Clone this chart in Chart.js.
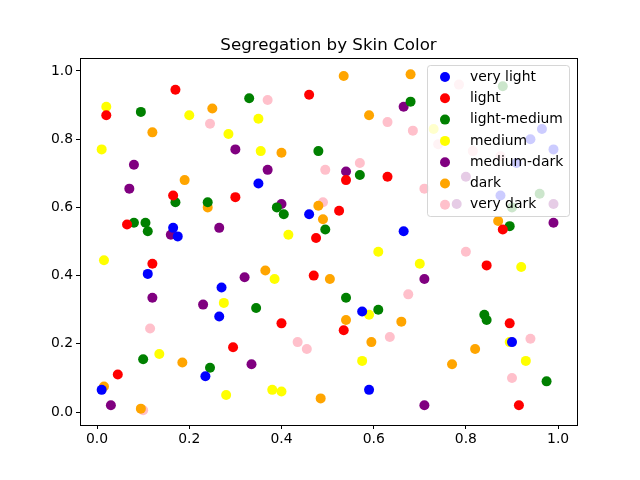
<!DOCTYPE html>
<html>
<head>
<meta charset="utf-8">
<script src="https://cdn.jsdelivr.net/npm/chart.js@4"></script>
<style>
  html, body { margin: 0; padding: 0; background: #fff; }
  canvas { display: block; }
</style>
</head>
<body>
<canvas id="chart" width="640" height="480"></canvas>
<script>
const seriesNames = ['very light', 'light', 'light-medium', 'medium', 'medium-dark', 'dark', 'very dark'];
const seriesColors = ['blue', 'red', 'green', 'yellow', 'purple', 'orange', 'pink'];
const tickValues = [0, 0.2, 0.4, 0.6, 0.8, 1.0];
const chartTitle = 'Segregation by Skin Color';

const veryLight = [[0.01,0.065],[0.11,0.405],[0.165,0.54],[0.175,0.515],[0.235,0.105],[0.265,0.28],[0.27,0.365],[0.35,0.67],[0.46,0.58],[0.575,0.295],[0.59,0.065],[0.665,0.53],[0.90,0.205],[0.965,0.83],[0.94,0.80],[0.99,0.77],[0.91,0.73],[0.875,0.635]];
const light = [[0.02,0.87],[0.045,0.11],[0.065,0.55],[0.12,0.435],[0.165,0.635],[0.17,0.945],[0.295,0.19],[0.30,0.63],[0.40,0.26],[0.46,0.93],[0.47,0.40],[0.475,0.51],[0.525,0.59],[0.535,0.24],[0.54,0.68],[0.63,0.69],[0.845,0.43],[0.88,0.535],[0.895,0.26],[0.915,0.02]];
const lightMedium = [[0.08,0.555],[0.095,0.88],[0.10,0.155],[0.105,0.555],[0.11,0.53],[0.17,0.615],[0.24,0.615],[0.245,0.13],[0.33,0.92],[0.345,0.305],[0.39,0.60],[0.405,0.58],[0.48,0.765],[0.495,0.535],[0.54,0.335],[0.57,0.695],[0.61,0.30],[0.68,0.91],[0.84,0.285],[0.845,0.27],[0.895,0.545],[0.975,0.09],[0.88,0.955],[0.90,0.60],[0.96,0.64]];
const medium = [[0.01,0.77],[0.015,0.445],[0.02,0.895],[0.135,0.17],[0.20,0.87],[0.275,0.32],[0.28,0.05],[0.285,0.815],[0.35,0.86],[0.355,0.765],[0.38,0.065],[0.385,0.39],[0.40,0.06],[0.415,0.52],[0.575,0.15],[0.59,0.285],[0.61,0.47],[0.70,0.435],[0.895,0.205],[0.92,0.425],[0.93,0.15],[0.73,0.83]];
const mediumDark = [[0.03,0.02],[0.07,0.655],[0.08,0.725],[0.12,0.335],[0.16,0.52],[0.23,0.315],[0.265,0.54],[0.30,0.77],[0.32,0.395],[0.335,0.14],[0.37,0.71],[0.40,0.61],[0.54,0.705],[0.665,0.895],[0.71,0.39],[0.71,0.02],[0.99,0.555],[0.80,0.69],[0.78,0.61],[0.99,0.61]];
const dark = [[0.015,0.075],[0.095,0.01],[0.12,0.82],[0.185,0.145],[0.19,0.68],[0.24,0.60],[0.25,0.89],[0.365,0.415],[0.40,0.76],[0.48,0.605],[0.485,0.04],[0.49,0.565],[0.505,0.39],[0.535,0.985],[0.54,0.27],[0.59,0.87],[0.595,0.205],[0.66,0.265],[0.68,0.99],[0.77,0.14],[0.82,0.185],[0.87,0.56]];
const veryDark = [[0.10,0.005],[0.115,0.245],[0.245,0.845],[0.37,0.915],[0.435,0.205],[0.455,0.185],[0.49,0.615],[0.495,0.71],[0.57,0.73],[0.63,0.85],[0.635,0.22],[0.675,0.345],[0.685,0.825],[0.71,0.655],[0.80,0.47],[0.90,0.10],[0.94,0.215],[0.785,0.96],[0.74,0.785],[0.815,0.765],[0.875,0.75]];

const allSeries = [veryLight, light, lightMedium, medium, mediumDark, dark, veryDark];

const datasets = allSeries.map(function(pts, i) {
  return {
    label: seriesNames[i],
    data: pts.map(function(p) { return { x: p[0], y: p[1] }; }),
    backgroundColor: seriesColors[i],
    borderWidth: 0,
    pointRadius: 5,
    pointHoverRadius: 5
  };
});

// frame, title over the plot area, and a matplotlib-style legend box
const mplDecor = {
  id: 'mplDecor',
  afterDraw: function(chart) {
    const a = chart.chartArea, c = chart.ctx;
    c.save();
    c.strokeStyle = '#000';
    c.lineWidth = 1;
    c.strokeRect(Math.round(a.left) + 0.5, Math.round(a.top) + 0.5,
      Math.round(a.right - a.left), Math.round(a.bottom - a.top));

    c.fillStyle = '#000';
    c.font = '16.7px "DejaVu Sans"';
    c.textAlign = 'center';
    c.textBaseline = 'alphabetic';
    c.fillText(chartTitle, (a.left + a.right) / 2, a.top - 8);

    const x = 427, y = 65, w = 142, h = 151;
    c.fillStyle = 'rgba(255,255,255,0.8)';
    c.strokeStyle = 'rgba(204,204,204,0.8)';
    c.beginPath();
    c.roundRect(x + 0.5, y + 0.5, w, h, 3);
    c.fill();
    c.stroke();
    c.font = '13.9px "DejaVu Sans"';
    c.textAlign = 'left';
    c.textBaseline = 'middle';
    seriesNames.forEach(function(name, i) {
      const cy = y + 12 + i * 21.3;
      c.fillStyle = seriesColors[i];
      c.beginPath();
      c.arc(x + 18, cy, 5, 0, Math.PI * 2);
      c.fill();
      c.fillStyle = '#000';
      c.fillText(name, x + 43, cy);
    });
    c.restore();
  }
};

function fixedTicks(axis) {
  axis.ticks = tickValues.map(function(v) { return { value: v }; });
}

const axisGrid = { display: true, drawOnChartArea: false, drawTicks: true, tickLength: 4, color: '#000' };

new Chart(document.getElementById('chart'), {
  type: 'scatter',
  data: { datasets: datasets },
  plugins: [mplDecor],
  options: {
    responsive: false,
    animation: false,
    layout: { padding: { top: 58, right: 63, bottom: 0, left: 0 } },
    plugins: {
      legend: { display: false },
      tooltip: { enabled: false },
      title: { display: false }
    },
    scales: {
      x: {
        type: 'linear',
        min: -0.037,
        max: 1.041,
        afterBuildTicks: fixedTicks,
        afterFit: function(s) { s.height = 55; },
        grid: axisGrid,
        border: { color: '#000', width: 1 },
        ticks: {
          color: '#000',
          padding: 2,
          font: { family: 'DejaVu Sans', size: 13.9 },
          maxRotation: 0,
          callback: function(v) { return v.toFixed(1); }
        }
      },
      y: {
        type: 'linear',
        min: -0.038,
        max: 1.038,
        afterBuildTicks: fixedTicks,
        afterFit: function(s) { s.width = 80; },
        grid: axisGrid,
        border: { color: '#000', width: 1 },
        ticks: {
          color: '#000',
          padding: 3,
          font: { family: 'DejaVu Sans', size: 13.9 },
          callback: function(v) { return v.toFixed(1); }
        }
      }
    }
  }
});
</script>
</body>
</html>
